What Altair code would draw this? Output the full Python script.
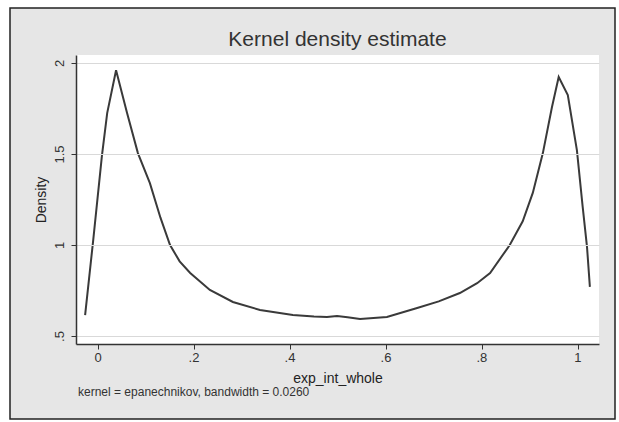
import altair as alt
import pandas as pd

# ---- data ----
x_vals = [-0.027, -0.010, 0.008, 0.019, 0.0375, 0.06, 0.083, 0.108, 0.13, 0.15,
          0.17, 0.192, 0.233, 0.281, 0.3375, 0.406, 0.45, 0.477, 0.498, 0.52,
          0.546, 0.602, 0.665, 0.71, 0.754, 0.79, 0.817, 0.858, 0.885, 0.906,
          0.927, 0.946, 0.960, 0.979, 0.998, 1.01, 1.019, 1.025]
density = [0.615, 1.03, 1.49, 1.725, 1.96, 1.73, 1.505, 1.34, 1.15, 1.0,
           0.91, 0.846, 0.753, 0.687, 0.643, 0.615, 0.607, 0.604, 0.61, 0.603,
           0.593, 0.604, 0.654, 0.69, 0.736, 0.79, 0.846, 1.0, 1.13, 1.286,
           1.505, 1.758, 1.923, 1.824, 1.52, 1.21, 0.99, 0.77]
x_ticks = [0, 0.2, 0.4, 0.6, 0.8, 1]
x_tick_labels = ["0", ".2", ".4", ".6", ".8", "1"]
y_ticks = [0.5, 1, 1.5, 2]
title_text = "Kernel density estimate"
x_title = "exp_int_whole"
y_title = "Density"
note_text = "kernel = epanechnikov, bandwidth = 0.0260"

df = pd.DataFrame({"x": x_vals, "density": density})
ticks_df = pd.DataFrame({"x": x_ticks, "lab": x_tick_labels})

W, H = 523, 289
FONT = "Liberation Sans"
label_expr = "datum.value == 0 ? '0' : replace(format(datum.value, '.1~f'), '0.', '.')"
x_scale = alt.Scale(domain=[-0.046, 1.044], nice=False, zero=False)

one = pd.DataFrame({"a": [0]})

frame = alt.Chart(one).mark_rect(fill="#e6e6e6", stroke="#222222", strokeWidth=1.5).encode(
    x=alt.value(-66), x2=alt.value(539), y=alt.value(-47), y2=alt.value(364))

plotbg = alt.Chart(one).mark_rect(fill="white").encode(
    x=alt.value(0), x2=alt.value(W), y=alt.value(0), y2=alt.value(H))

line = alt.Chart(df).mark_line(color="#3a3a3a", strokeWidth=2, clip=True).encode(
    x=alt.X("x:Q", scale=x_scale,
            axis=alt.Axis(values=x_ticks, labelExpr=label_expr, title=x_title,
                          tickSize=5, labelPadding=3, titlePadding=6,
                          labelFontSize=13, titleFontSize=14, grid=False,
                          labelOverlap=False, labelOpacity=0,
                          domainColor="#333333", tickColor="#333333", domainWidth=1.5,
                          titleColor="#222222",
                          labelFont=FONT, titleFont=FONT, titleFontWeight="normal",
                          zindex=1)),
    y=alt.Y("density:Q",
            scale=alt.Scale(domain=[0.456, 2.044], nice=False, zero=False),
            axis=alt.Axis(values=y_ticks, labelExpr=label_expr, title=y_title,
                          tickSize=5, labelPadding=5, titlePadding=5,
                          labelAngle=270, labelAlign="center", labelBaseline="bottom",
                          labelFontSize=13, titleFontSize=14, grid=True,
                          labelOverlap=False,
                          gridColor="#d9d9d9", gridWidth=1,
                          domainColor="#333333", tickColor="#333333", domainWidth=1.5,
                          labelColor="#333333", titleColor="#222222",
                          labelFont=FONT, titleFont=FONT, titleFontWeight="normal",
                          zindex=1)),
)

xlabels = alt.Chart(ticks_df).mark_text(
    font=FONT, fontSize=13, color="#333333", align="center", baseline="top").encode(
    x=alt.X("x:Q", scale=x_scale), y=alt.value(H + 8), text="lab:N")

title = alt.Chart(pd.DataFrame({"t": [title_text]})).mark_text(
    font=FONT, fontSize=21, color="#333333", align="center", baseline="alphabetic").encode(
    x=alt.value(W / 2), y=alt.value(-9), text="t:N")

note = alt.Chart(pd.DataFrame({"t": [note_text]})).mark_text(
    font=FONT, fontSize=12, color="#333333", align="left", baseline="middle").encode(
    x=alt.value(2), y=alt.value(337), text="t:N")

chart = alt.layer(frame, plotbg, line, xlabels, title, note).properties(
    width=W, height=H,
    padding={"left": 76, "top": 55, "right": 20, "bottom": 78},
    autosize=alt.AutoSizeParams(type="none"),
    background="white",
).configure_view(strokeWidth=0)

chart.save("out.html", embed_options={"renderer": "svg", "actions": False})
